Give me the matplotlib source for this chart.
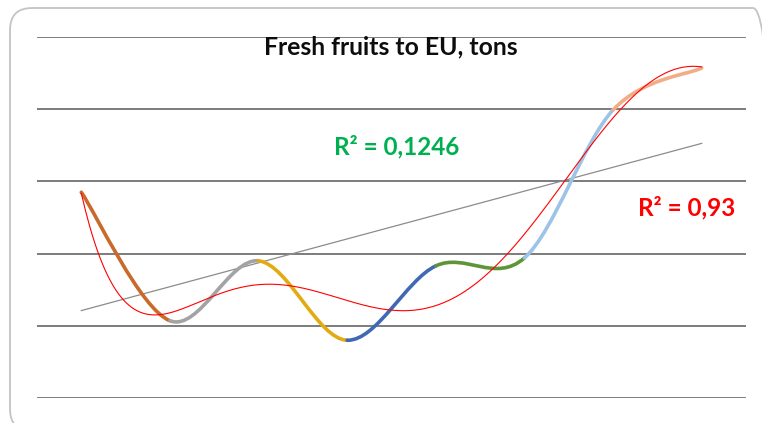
import numpy as np
import matplotlib
matplotlib.use("Agg")
import matplotlib.pyplot as plt
from matplotlib.path import Path
from matplotlib.patches import PathPatch, FancyBboxPatch

# fresh fruit exports to EU, one value per period (grid units, axis unlabeled)
periods = np.arange(8)
tons = [2.85, 1.07, 1.90, 0.80, 1.83, 1.94, 3.99, 4.57]
seg_colors = ["#C96A2B", "#A3A3A3", "#E2AB12", "#4169B3", "#5F9539", "#9DC3E6", "#F2AD87"]
title = "Fresh fruits to EU, tons"
r2_lin = "R² = 0,1246"
r2_poly = "R² = 0,93"

W, H = 762, 423


def smooth_segments(x, y):
    # excel-like smoothed line: catmull-rom bezier between neighbouring points
    pts = np.column_stack([x, y])
    n = len(pts)
    out = []
    for i in range(n - 1):
        p0 = pts[max(i - 1, 0)]
        p1 = pts[i]
        p2 = pts[i + 1]
        p3 = pts[min(i + 2, n - 1)]
        c1 = p1 + (p2 - p0) / 6
        c2 = p2 - (p3 - p1) / 6
        out.append(Path([p1, c1, c2, p2], [Path.MOVETO, Path.CURVE4, Path.CURVE4, Path.CURVE4]))
    return out


fig = plt.figure(figsize=(W / 100, H / 100), dpi=100)
# chart area border, in pixels (runs just off the right and bottom edges)
fig.patches.append(FancyBboxPatch((10, -8), 765, H - 8 + 8,
                                  boxstyle="round,pad=0,rounding_size=22",
                                  transform=None, fill=False,
                                  edgecolor="#C4C4C4", linewidth=1.3))

ax = fig.add_axes([37 / W, 25 / H, 709 / W, 361 / H])
ax.set_xlim(-0.5, 7.5)
ax.set_ylim(0, 5)
for g in range(6):
    ax.axhline(g, color="#595959", linewidth=1.1, zorder=1)
for s in ax.spines.values():
    s.set_visible(False)
ax.set_xticks([])
ax.set_yticks([])
ax.patch.set_alpha(0)

# linear and polynomial (order 6) trend lines
k, b = np.polyfit(periods, tons, 1)
ax.plot(periods, k * periods + b, color="#8C8C8C", linewidth=0.9, zorder=2)
coef = np.polyfit(periods, tons, 6)
xf = np.linspace(0, 7, 300)
ax.plot(xf, np.polyval(coef, xf), color="#FF0000", linewidth=0.8, zorder=4)

for path, c in zip(smooth_segments(periods, tons), seg_colors):
    ax.add_patch(PathPatch(path, fill=False, edgecolor=c, linewidth=2.6,
                           capstyle="round", zorder=3))

fig.text(391 / W, 1 - 47 / H, title, ha="center", va="center", fontsize=17.8,
         fontweight="bold", family="Lato", color="#0D0D0D")
fig.text(397 / W, 1 - 147 / H, r2_lin, ha="center", va="center", fontsize=17.5,
         fontweight="bold", family="Lato", color="#00B050")
fig.text(687 / W, 1 - 208 / H, r2_poly, ha="center", va="center", fontsize=17.5,
         fontweight="bold", family="Lato", color="#FF0000")

fig.savefig("out.png", dpi=100)
